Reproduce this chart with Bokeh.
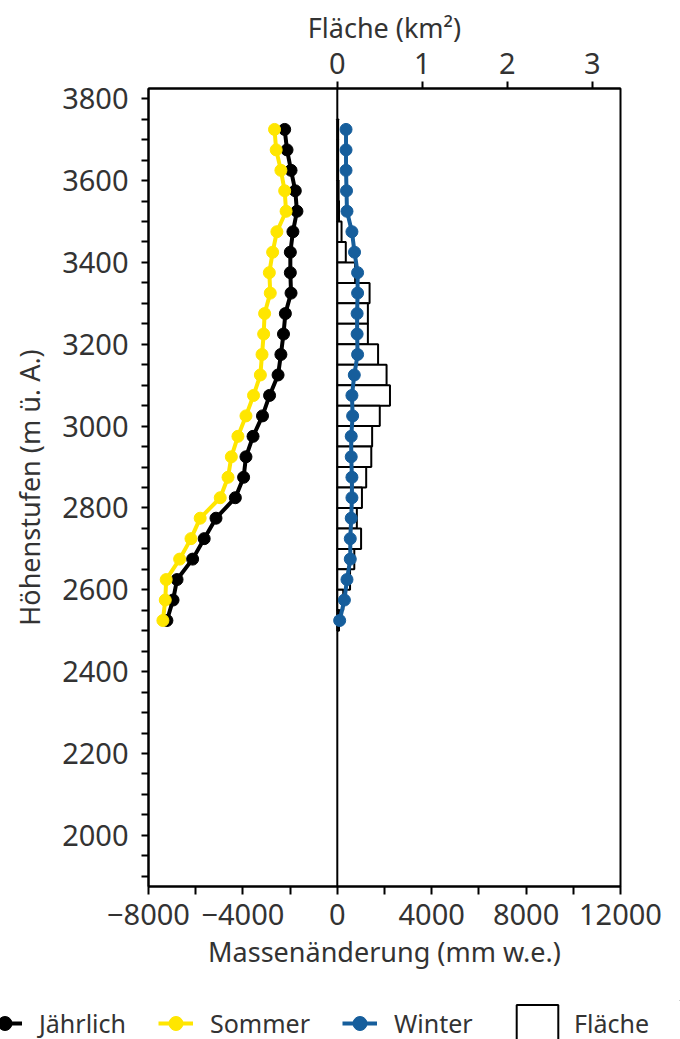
from bokeh.plotting import figure
from bokeh.models import (Range1d, LinearAxis, FixedTicker, Span, Legend,
                          LegendItem, ColumnDataSource)
from bokeh.embed import file_html
from bokeh.resources import INLINE

# ---------------- data ----------------
elevation = [3725, 3675, 3625, 3575, 3525, 3475, 3425, 3375, 3325, 3275, 3225,
             3175, 3125, 3075, 3025, 2975, 2925, 2875, 2825, 2775, 2725, 2675,
             2625, 2575, 2525]
jaehrlich = [-2230, -2130, -1960, -1780, -1710, -1880, -1990, -1990, -1960,
             -2200, -2280, -2390, -2510, -2870, -3170, -3570, -3870, -3970,
             -4320, -5140, -5640, -6130, -6790, -6960, -7220]
sommer = [-2660, -2590, -2390, -2230, -2170, -2560, -2740, -2880, -2840,
          -3080, -3120, -3190, -3260, -3550, -3870, -4210, -4490, -4630,
          -4960, -5810, -6200, -6680, -7250, -7290, -7390]
winter = [370, 370, 370, 390, 410, 620, 730, 860, 860, 840, 840, 860, 720,
          620, 650, 590, 590, 620, 620, 590, 550, 550, 410, 300, 100]
flaeche = [0.01, 0.01, 0.01, 0.015, 0.02, 0.05, 0.10, 0.21, 0.38, 0.36, 0.36,
           0.48, 0.58, 0.62, 0.50, 0.41, 0.40, 0.34, 0.29, 0.23, 0.28, 0.20,
           0.15, 0.07, 0.02]

mass_ticks = [-8000, -4000, 0, 4000, 8000, 12000]
mass_minor = [-6000, -2000, 2000, 6000, 10000]
elev_ticks = [2000, 2200, 2400, 2600, 2800, 3000, 3200, 3400, 3600, 3800]
area_ticks = [0, 1, 2, 3]
series_names = ["Jährlich", "Sommer", "Winter", "Fläche"]

FONT = "Noto Sans"
TXT = "#333333"
YELLOW = "#FFE600"
BLUE = "#165E9C"
MS = 12
LW = 4

p = figure(width=680, height=1000, output_backend="svg", toolbar_location=None,
           x_range=Range1d(-8000, 12000), y_range=Range1d(1875, 3825),
           min_border_left=148, min_border_right=60, min_border_top=88,
           min_border_bottom=114)
p.extra_x_ranges = {"area": Range1d(-8000 / 3600, 12000 / 3600)}
p.grid.visible = False
p.outline_line_color = "black"
p.outline_line_width = 2

src = ColumnDataSource(dict(elev=elevation, j=jaehrlich, s=sommer, w=winter,
                            a=flaeche))

zero = Span(location=0, dimension="height", line_color="black", line_width=2,
            level="underlay")
p.add_layout(zero)

p.hbar(y="elev", height=50, left=0, right="a", x_range_name="area",
       source=src, fill_color="white", line_color="black", line_width=2)

p.line("j", "elev", source=src, line_color="black", line_width=LW)
p.scatter("j", "elev", source=src, size=MS, fill_color="black",
          line_color="black")
p.line("s", "elev", source=src, line_color=YELLOW, line_width=LW)
p.scatter("s", "elev", source=src, size=MS, fill_color=YELLOW,
          line_color=YELLOW)
p.line("w", "elev", source=src, line_color=BLUE, line_width=LW)
p.scatter("w", "elev", source=src, size=MS, fill_color=BLUE,
          line_color=BLUE)


def style(ax, tick_out=7, standoff=10, label_standoff=10):
    ax.axis_line_color = "black"
    ax.axis_line_width = 2
    ax.major_tick_line_color = "black"
    ax.minor_tick_line_color = "black"
    ax.major_tick_line_width = 2
    ax.minor_tick_line_width = 2
    ax.major_tick_in = 0
    ax.minor_tick_in = 0
    ax.major_tick_out = tick_out
    ax.minor_tick_out = tick_out
    ax.major_label_text_font = FONT
    ax.major_label_text_font_size = "29px"
    ax.major_label_text_color = TXT
    ax.major_label_standoff = standoff
    ax.axis_label_text_font = FONT
    ax.axis_label_text_font_size = "27px"
    ax.axis_label_text_font_style = "normal"
    ax.axis_label_text_color = TXT
    ax.axis_label_standoff = label_standoff


xa = p.xaxis[0]
xa.ticker = FixedTicker(ticks=mass_ticks, minor_ticks=mass_minor)
xa.axis_label = "Massenänderung (mm w.e.)"
xa.major_label_overrides = {-8000: "\u22128000", -4000: "\u22124000"}
style(xa, tick_out=8, standoff=9, label_standoff=5)

ya = p.yaxis[0]
ya.ticker = FixedTicker(ticks=elev_ticks,
                        minor_ticks=[v for v in range(1900, 3826, 50)
                                     if v not in elev_ticks])
ya.axis_label = "Höhenstufen (m ü. A.)"
style(ya, tick_out=7, standoff=13, label_standoff=11)

top = LinearAxis(x_range_name="area", axis_label="Fläche (km²)",
                 ticker=FixedTicker(ticks=area_ticks, minor_ticks=[]))
style(top, tick_out=7, standoff=8, label_standoff=4)
p.add_layout(top, "above")

# ---------------- legend strip (separate root below the chart) ----------------
lg = figure(width=680, height=39, output_backend="svg", toolbar_location=None,
            x_range=Range1d(0, 1), y_range=Range1d(0, 1),
            min_border_left=0, min_border_right=0, min_border_top=0,
            min_border_bottom=0, x_axis_location=None, y_axis_location=None)
lg.grid.visible = False
lg.outline_line_color = None

# legend proxies: one row each, placed outside the visible range
proxy = ColumnDataSource(dict(x=[5], y=[5]))
items = []
for name, col in zip(series_names[:3], ["black", YELLOW, BLUE]):
    r1 = lg.line("x", "y", source=proxy, line_color=col, line_width=LW)
    r2 = lg.scatter("x", "y", source=proxy, size=MS, fill_color=col,
                    line_color=col)
    items.append(LegendItem(label=name, renderers=[r1, r2]))
rb = lg.hbar(y="y", height=1, left="x", right="x", source=proxy,
             fill_color="white", line_color="black", line_width=2)

leg1 = Legend(items=items, orientation="horizontal", location=(-13, -2),
              glyph_width=35, glyph_height=36, label_standoff=17, spacing=32,
              padding=0, margin=0, border_line_alpha=0,
              background_fill_alpha=0, label_text_font=FONT,
              label_text_font_size="25px", label_text_color=TXT)
leg2 = Legend(items=[LegendItem(label=series_names[3], renderers=[rb])],
              orientation="horizontal", location=(511, -7),
              glyph_width=52, glyph_height=46, label_standoff=11,
              padding=0, margin=0, border_line_alpha=0,
              background_fill_alpha=0, label_text_font=FONT,
              label_text_font_size="25px", label_text_color=TXT)
lg.add_layout(leg1)
lg.add_layout(leg2)

open("out.html", "w").write(file_html([p, lg], INLINE))
